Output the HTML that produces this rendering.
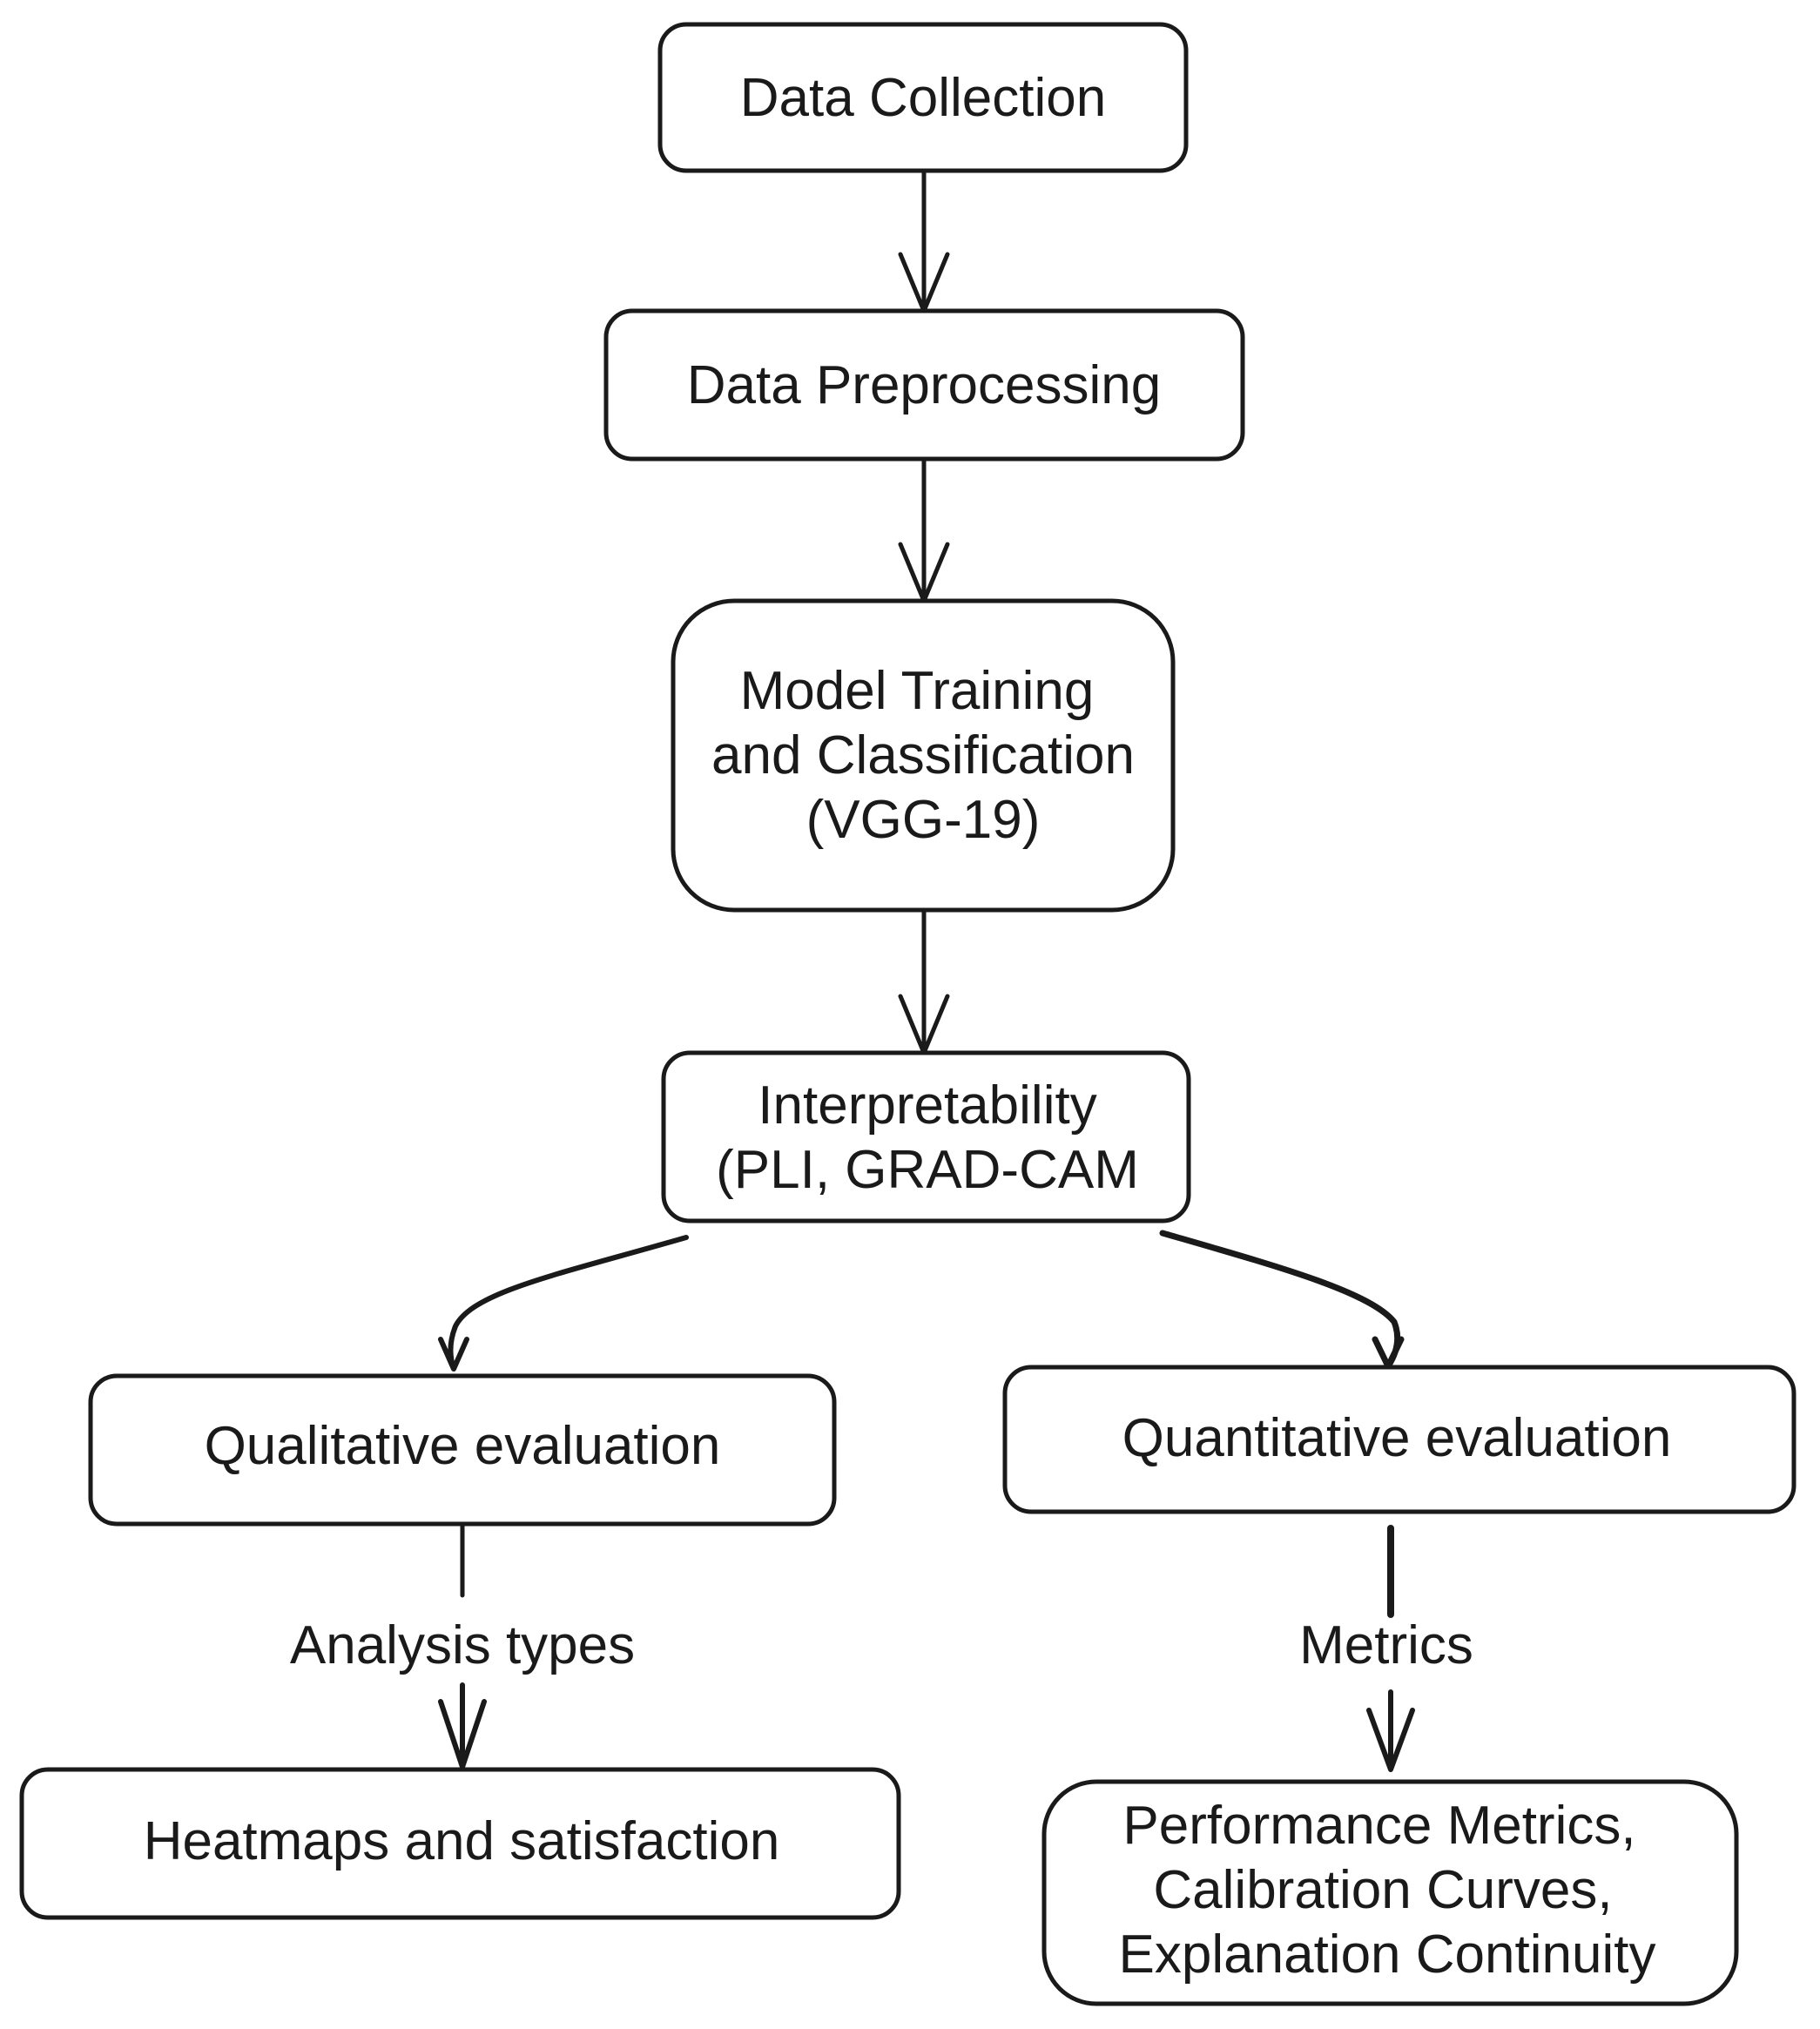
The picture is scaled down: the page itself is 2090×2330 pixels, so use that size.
<!DOCTYPE html>
<html><head><style>
html,body{margin:0;padding:0;background:#fff;}
svg{display:block;}
text{font-family:"Liberation Sans",Arial,sans-serif;font-size:62px;fill:#1a1a1a;text-anchor:middle;}
</style></head><body>
<svg width="2090" height="2330" viewBox="0 0 2090 2330" xmlns="http://www.w3.org/2000/svg">
<g fill="none" stroke="#1a1a1a" stroke-width="5" stroke-linecap="round" stroke-linejoin="round">
<rect x="758" y="28" width="604" height="168" rx="30"/>
<rect x="696" y="357" width="731" height="170" rx="30"/>
<rect x="773" y="690" width="574" height="355" rx="70"/>
<rect x="762" y="1209" width="603" height="193" rx="30"/>
<rect x="104" y="1580" width="854" height="170" rx="30"/>
<rect x="1154" y="1570" width="906" height="166" rx="30"/>
<rect x="25" y="2032" width="1007" height="170" rx="30"/>
<rect x="1199" y="2046" width="795" height="255" rx="60"/>
<path d="M1061 196 V357 M1034 292 L1061 357 L1088 292"/>
<path d="M1061 527 V690 M1034 625 L1061 690 L1088 625"/>
<path d="M1061 1045 V1209 M1034 1144 L1061 1209 L1088 1144"/>
<path d="M788 1421 C643 1463 543 1483 523 1523 Q513 1548 521 1572 M506 1538 L521 1572 L536 1538" stroke-width="6"/>
<path d="M1335 1416 C1463 1453 1573 1483 1601 1518 Q1611 1543 1594 1569 M1579 1538 L1594 1569 L1609 1538" stroke-width="7"/>
<path d="M531 1750 V1832"/>
<path d="M531 1935 V2029 M506 1954 L531 2029 L556 1954" stroke-width="6"/>
<path d="M1597 1755 V1854" stroke-width="8"/>
<path d="M1597 1943 V2032 M1572 1964 L1597 2032 L1622 1964" stroke-width="6"/>
</g>
<text x="1060" y="133">Data Collection</text>
<text x="1061" y="463">Data Preprocessing</text>
<text x="1053" y="814">Model Training</text>
<text x="1060" y="888">and Classification</text>
<text x="1060" y="962">(VGG-19)</text>
<text x="1065" y="1290">Interpretability</text>
<text x="1065" y="1364">(PLI, GRAD-CAM</text>
<text x="531" y="1681">Qualitative evaluation</text>
<text x="1604" y="1672">Quantitative evaluation</text>
<text x="531" y="1910">Analysis types</text>
<text x="1592" y="1910">Metrics</text>
<text x="530" y="2135">Heatmaps and satisfaction</text>
<text x="1584" y="2117">Performance Metrics,</text>
<text x="1588" y="2191">Calibration Curves,</text>
<text x="1593" y="2265">Explanation Continuity</text>
</svg>
</body></html>
